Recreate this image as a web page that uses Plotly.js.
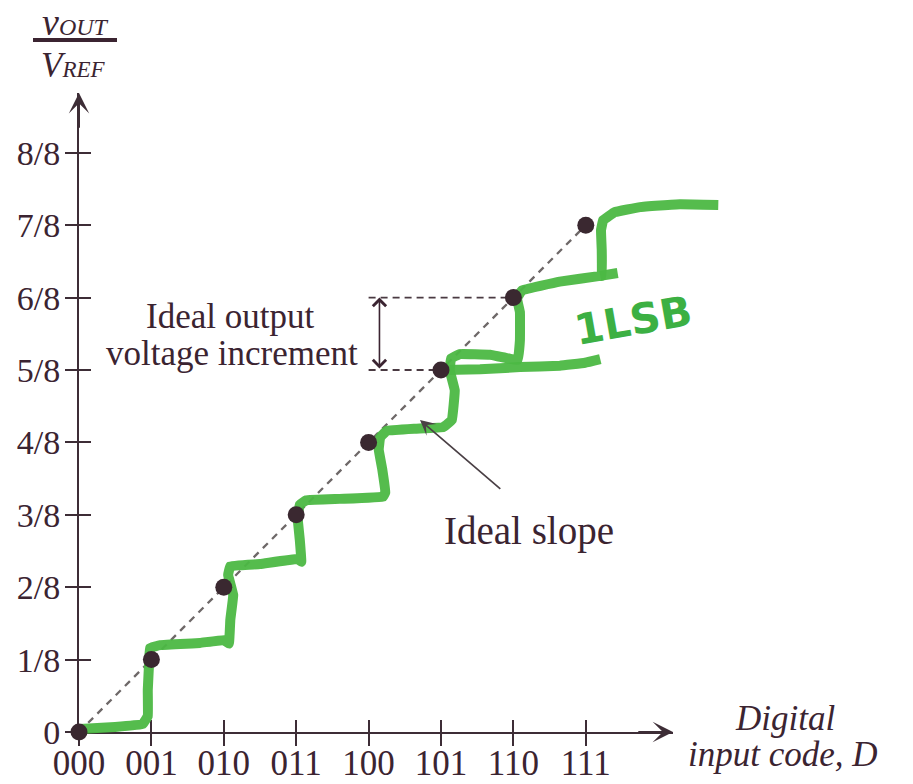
<!DOCTYPE html>
<html>
<head>
<meta charset="utf-8">
<script src="https://cdn.plot.ly/plotly-3.0.1.min.js"></script>
<style>html,body{margin:0;padding:0;background:#fff;}#chart{width:913px;height:784px;}</style>
</head>
<body>
<div id="chart"></div>
<script>
// ---------- data ----------
const codeLabels = ['000','001','010','011','100','101','110','111'];
const codeIndex  = [0,1,2,3,4,5,6,7];
const levelVals  = [0,1,2,3,4,5,6,7,8];
const levelText  = ['0','1/8','2/8','3/8','4/8','5/8','6/8','7/8','8/8'];

// ideal output (in eighths of VREF) for each code
const idealOut = [0,1,2,3,4,5,6,7];

// ideal slope line
const slopeX = [0,7];
const slopeY = [0,7];

// hand-drawn green staircase (units: code, eighths)
const greenX = [0.01,0.50,0.88,0.95,0.95,0.97,0.98,1.12,1.67,2.00,2.07,2.09,2.13,2.06,2.09,2.50,3.02,3.07,3.05,3.02,3.05,3.14,3.60,4.20,4.23,4.19,4.14,4.16,4.25,4.64,5.03,5.15,5.19,5.12,5.14,5.26,5.68,6.06,6.09,6.09,6.05,6.12,6.64,7.20,7.22,7.22,7.21,7.24,7.40,7.75,8.30,8.83];
const greenY = [0.04,0.07,0.11,0.22,0.58,0.99,1.16,1.20,1.23,1.27,1.22,1.55,1.89,2.17,2.29,2.32,2.39,2.35,2.65,2.96,3.14,3.20,3.22,3.25,3.31,3.62,3.90,4.07,4.16,4.19,4.21,4.31,4.72,5.00,5.16,5.22,5.21,5.14,5.41,5.80,5.99,6.10,6.22,6.30,6.30,6.66,6.93,7.07,7.18,7.25,7.29,7.28];
const greenTailX = [7.20,7.44];
const greenTailY = [6.30,6.34];
const greenLongX = [5.06,5.54,6.09,6.64,6.99,7.20];
const greenLongY = [5.00,5.01,5.04,5.06,5.10,5.15];

// ideal increment reference (levels 5/8 and 6/8)
const incLevels = [5,6];
const incStartX = 4.0;
const incArrowX = 4.15;

// ---------- geometry ----------
const W = 913, H = 784;
const PX = 72.4;            // pixels per unit
const OX = 79, OY = 732;    // pixel of origin
const AX_END_PX = 673, AY_END_PX = 93;
const X_MAX = (AX_END_PX - OX) / PX;
const Y_MAX = (OY - AY_END_PX) / PX;
const px = p => p / W, py = p => 1 - p / H;

const INK = '#3b2431';
const AXC = '#3d2d36';
const GREEN = '#4cb944';
const serif = 'Liberation Serif, Times New Roman, serif';

const traces = [];
// placeholders so the axis subplots are built
traces.push({x:[], y:[], xaxis:'x', yaxis:'y', type:'scatter', mode:'lines', showlegend:false, hoverinfo:'skip'});
traces.push({x:[], y:[], xaxis:'x2', yaxis:'y2', type:'scatter', mode:'lines', showlegend:false, hoverinfo:'skip'});

// ideal slope dashed line
traces.push({x:slopeX, y:slopeY, xaxis:'x3', yaxis:'y3', type:'scatter', mode:'lines',
  line:{color:'#6e6868', width:2.3, dash:'7px,6px'}, showlegend:false, hoverinfo:'skip'});
// increment dashed lines
incLevels.forEach(l => {
  traces.push({x:[incStartX, l], y:[l, l], xaxis:'x3', yaxis:'y3', type:'scatter', mode:'lines',
    line:{color:'#4a3a42', width:1.8, dash:'7px,5px'}, showlegend:false, hoverinfo:'skip'});
});
// green hand-drawn curve
const gLine = {color:GREEN, width:10, shape:'spline', smoothing:0.2};
traces.push({x:greenX, y:greenY, xaxis:'x3', yaxis:'y3', type:'scatter', mode:'lines', line:gLine, opacity:0.95, showlegend:false, hoverinfo:'skip'});
traces.push({x:greenTailX, y:greenTailY, xaxis:'x3', yaxis:'y3', type:'scatter', mode:'lines', line:gLine, opacity:0.95, showlegend:false, hoverinfo:'skip'});
traces.push({x:greenLongX, y:greenLongY, xaxis:'x3', yaxis:'y3', type:'scatter', mode:'lines', line:gLine, opacity:0.95, showlegend:false, hoverinfo:'skip'});
// ideal output points
traces.push({x:codeIndex, y:idealOut, xaxis:'x3', yaxis:'y3', type:'scatter', mode:'markers',
  marker:{color:'#3a2830', size:17}, cliponaxis:false, showlegend:false, hoverinfo:'skip'});

const tickCommon = {tickcolor:AXC, tickwidth:2, ticklen:12, showgrid:false, zeroline:false, fixedrange:true};

const layout = {
  width:W, height:H, autosize:false,
  margin:{l:0,r:0,t:0,b:0,pad:0},
  paper_bgcolor:'#ffffff', plot_bgcolor:'rgba(0,0,0,0)',
  showlegend:false,
  xaxis: Object.assign({}, tickCommon, {
    domain:[px(OX), px(AX_END_PX)], range:[0, X_MAX], anchor:'y',
    showline:true, linecolor:AXC, linewidth:2, ticks:'outside',
    tickmode:'array', tickvals:codeIndex, showticklabels:false
  }),
  yaxis: Object.assign({}, tickCommon, {
    domain:[py(OY), py(AY_END_PX)], range:[0, Y_MAX], anchor:'x',
    showline:true, linecolor:AXC, linewidth:2, ticks:'outside',
    tickmode:'array', tickvals:levelVals, ticktext:levelText,
    tickfont:{family:serif, size:34, color:INK}, ticklabelstandoff:-2
  }),
  xaxis2: Object.assign({}, tickCommon, {
    overlaying:'x', anchor:'y', side:'bottom', range:[0, X_MAX], ticks:'inside',
    tickmode:'array', tickvals:codeIndex, ticktext:codeLabels, showticklabels:true, showline:false,
    tickfont:{family:serif, size:35, color:INK}, ticklabelstandoff:7
  }),
  yaxis2: Object.assign({}, tickCommon, {
    overlaying:'y', anchor:'x', side:'left', range:[0, Y_MAX], ticks:'inside',
    tickmode:'array', tickvals:levelVals.slice(1), showticklabels:false, showline:false
  }),
  xaxis3: {domain:[0,1], range:[-OX/PX, (W-OX)/PX], anchor:'y3', visible:false, fixedrange:true},
  yaxis3: {domain:[0,1], range:[-(H-OY)/PX, OY/PX], anchor:'x3', visible:false, fixedrange:true},
  shapes: [
    {type:'line', xref:'paper', yref:'paper', x0:px(33), x1:px(117), y0:py(40), y1:py(40),
     line:{color:INK, width:4}}
  ],
  annotations: [
    // axis arrowheads
    {xref:'x3', yref:'y3', axref:'x3', ayref:'y3', x:0, y:Y_MAX, ax:0, ay:Y_MAX-0.5, text:'',
     showarrow:true, arrowhead:3, arrowsize:1.7, arrowwidth:2, arrowcolor:AXC, standoff:0},
    {xref:'x3', yref:'y3', axref:'x3', ayref:'y3', x:X_MAX, y:0, ax:X_MAX-0.5, ay:0, text:'',
     showarrow:true, arrowhead:3, arrowsize:1.7, arrowwidth:2, arrowcolor:AXC, standoff:0},
    // increment double arrow
    {xref:'x3', yref:'y3', axref:'x3', ayref:'y3', x:incArrowX, y:incLevels[1], ax:incArrowX, ay:incLevels[0], text:'',
     showarrow:true, arrowside:'end+start', arrowhead:4, startarrowhead:4, arrowsize:1.6, startarrowsize:1.6,
     arrowwidth:1.6, arrowcolor:INK, standoff:0, startstandoff:0},
    // ideal slope pointer
    {xref:'x3', yref:'y3', axref:'x3', ayref:'y3', x:4.71, y:4.31, ax:5.84, ay:3.34, text:'',
     showarrow:true, arrowhead:3, arrowsize:1.5, arrowwidth:1.7, arrowcolor:'#4a4045', standoff:0},
    // texts
    {xref:'paper', yref:'paper', x:px(230), y:py(316), text:'Ideal output', showarrow:false,
     font:{family:serif, size:35, color:INK}, xanchor:'center', yanchor:'middle'},
    {xref:'paper', yref:'paper', x:px(232), y:py(353), text:'voltage increment', showarrow:false,
     font:{family:serif, size:35, color:INK}, xanchor:'center', yanchor:'middle'},
    {xref:'paper', yref:'paper', x:px(529), y:py(531), text:'Ideal slope', showarrow:false,
     font:{family:serif, size:39, color:INK}, xanchor:'center', yanchor:'middle'},
    {xref:'paper', yref:'paper', x:px(785), y:py(718), text:'<i>Digital</i>', showarrow:false,
     font:{family:serif, size:35, color:INK}, xanchor:'center', yanchor:'middle'},
    {xref:'paper', yref:'paper', x:px(783), y:py(754), text:'<i>input code, D</i>', showarrow:false,
     font:{family:serif, size:35, color:INK}, xanchor:'center', yanchor:'middle'},
    {xref:'paper', yref:'paper', x:px(75), y:py(22), text:'<i>v<span style="font-size:24px">OUT</span></i>', showarrow:false,
     font:{family:serif, size:38, color:INK}, xanchor:'center', yanchor:'middle'},
    {xref:'paper', yref:'paper', x:px(73), y:py(66), text:'<i>V<span style="font-size:23px">REF</span></i>', showarrow:false,
     font:{family:serif, size:35, color:INK}, xanchor:'center', yanchor:'middle'},
    {xref:'paper', yref:'paper', x:px(633), y:py(320), text:'<b>1LSB</b>', showarrow:false, textangle:-10,
     font:{family:'DejaVu Sans, sans-serif', size:42, color:'#3cb043'}, xanchor:'center', yanchor:'middle'}
  ]
};

Plotly.newPlot('chart', traces, layout, {staticPlot:true, displayModeBar:false});
</script>
</body>
</html>
